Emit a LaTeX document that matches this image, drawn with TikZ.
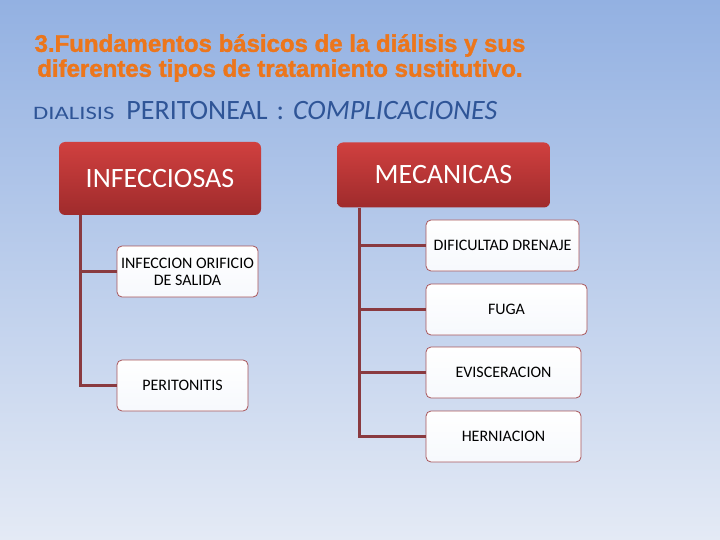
\documentclass[tikz,border=0pt]{standalone}
\usepackage{fontspec}
\setmainfont{Carlito}
\newfontfamily\titlefont{Liberation Sans}
\definecolor{bgtop}{HTML}{93B1E2}
\definecolor{bgbot}{HTML}{E4EAF5}
\definecolor{redtop}{HTML}{D0403F}
\definecolor{redbot}{HTML}{9F2B2C}
\definecolor{conn}{HTML}{8A3A40}
\definecolor{boxline}{HTML}{A8555A}
\definecolor{titleorange}{HTML}{EC761C}
\definecolor{subblue}{HTML}{2F5597}
\tikzset{
  headbox/.style={rounded corners=6pt, top color=redtop, bottom color=redbot, draw=none,
    text=white, font=\fontsize{28}{32}\selectfont, inner sep=0pt},
  leafbox/.style={rounded corners=5pt, top color=white, bottom color=white!92!bgtop, draw=boxline,
    line width=0.8pt, font=\fontsize{16}{17}\selectfont, align=center, inner sep=0pt},
  trunk/.style={draw=conn, line width=3pt}
}
\begin{document}
\begin{tikzpicture}[x=1pt,y=-1pt]
\useasboundingbox (0,0) rectangle (720,540);
\shade[top color=bgtop, bottom color=bgbot] (0,0) rectangle (720,540);
% title
\node[font=\titlefont\bfseries\addfontfeature{FakeBold=1.5}\fontsize{24}{25}\selectfont, text=titleorange, align=center] (title) at (280,58)
  {3.Fundamentos básicos de la diálisis y sus\\diferentes tipos de tratamiento sustitutivo.};
\node[anchor=base west, text=subblue, inner sep=0pt] (sub) at (33,120)
  {\scalebox{1.3}[1]{\fontsize{19}{22}\selectfont DIALISIS}\hspace{12pt}{\fontsize{28}{30}\selectfont PERITONEAL\hspace{9pt}:\hspace{9pt}\itshape COMPLICACIONES}};
% head boxes
\node[headbox, minimum width=202pt, minimum height=73pt] (inf) at (160,178.5) {INFECCIOSAS};
\node[headbox, minimum width=213pt, minimum height=65pt] (mec) at (443.5,175) {MECANICAS};
% leaf boxes
\node[leafbox, minimum width=141pt, minimum height=51pt] (ios) at (187.5,271.5) {INFECCION ORIFICIO\\DE SALIDA};
\node[leafbox, minimum width=131pt, minimum height=51pt] (per) at (182.5,385.5) {PERITONITIS};
\node[leafbox, minimum width=153pt, minimum height=51pt] (dif) at (502.5,245.5) {DIFICULTAD DRENAJE};
\node[leafbox, minimum width=161pt, minimum height=51pt] (fug) at (506.5,309.5) {FUGA};
\node[leafbox, minimum width=155pt, minimum height=51pt] (evi) at (503.5,372.5) {EVISCERACION};
\node[leafbox, minimum width=155pt, minimum height=51pt] (her) at (503.5,436.5) {HERNIACION};
% trunks
\coordinate (lx) at (80,0);
\coordinate (rx) at (359,0);
\draw[trunk] (inf.south -| lx) |- (per.west);
\draw[trunk] (ios.west -| lx) -- (ios.west);
\draw[trunk] (mec.south -| rx) |- (her.west);
\draw[trunk] (dif.west -| rx) -- (dif.west);
\draw[trunk] (fug.west -| rx) -- (fug.west);
\draw[trunk] (evi.west -| rx) -- (evi.west);
\end{tikzpicture}
\end{document}
